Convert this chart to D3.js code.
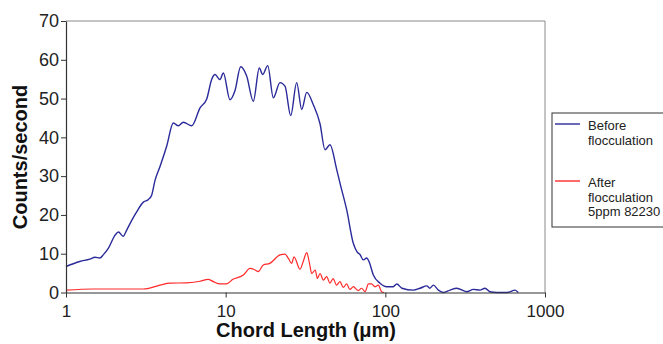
<!DOCTYPE html>
<html><head><meta charset="utf-8">
<script src="https://cdn.jsdelivr.net/npm/d3@7/dist/d3.min.js"></script>
<style>body{margin:0;background:#fff}svg{display:block;font-family:"Liberation Sans",Arial,sans-serif}</style>
</head><body><svg id="c" width="663" height="344"></svg>
<script>
const xTicks = [1, 10, 100, 1000];
const yTicks = [0, 10, 20, 30, 40, 50, 60, 70];
const seriesNames = ["Before flocculation", "After flocculation 5ppm 82230"];
const beforeX = [1.0,1.22,1.41,1.52,1.63,1.71,1.84,2.03,2.13,2.28,2.40,2.58,2.77,3.05,3.28,3.44,3.61,3.88,4.27,4.70,5.05,5.43,6.13,6.91,7.61,8.18,8.58,9.21,9.67,10.64,11.43,12.42,13.54,14.90,16.24,17.06,18.34,19.88,21.88,23.53,25.55,27.85,29.95,32.19,35.41,38.99,41.9,45.0,49.6,52.0,57.3,63.0,66.5,69.4,72.8,76.4,79,84.1,92.6,102,112,118,127,150,165,182,190,200,215,231,254,280,323,356,392,421,452,498,580,649,680];
const beforeY = [6.7,8.0,8.6,9.1,8.9,9.7,11.4,14.8,15.6,14.5,16.1,18.6,20.8,23.3,24.0,25.1,28.9,32.5,37.7,43.7,43.0,43.9,43.0,47.6,49.9,55.0,56.2,54.9,56.6,49.7,52.0,58.2,55.8,49.3,57.9,56.2,58.5,50.2,54.1,53.2,45.6,54.1,47.2,51.6,48.4,43.5,36.8,38.1,31.7,28.2,21.3,12.7,10.5,9.8,8.4,8.9,8.0,4.5,2.4,1.5,1.5,2.2,1.1,0.6,1.1,1.7,1.1,1.9,0.6,0,0.6,1.1,0.2,0.8,0.6,1.1,0.2,0,0,0.6,0];
const afterX = [1.0,1.48,3.04,3.88,4.48,5.70,6.91,7.76,8.37,9.21,10.1,11.1,12.9,14.2,15.3,16.0,17.2,18.9,21.9,23.5,24.7,25.9,26.8,29.2,30.6,32.2,33.5,34.6,36.4,37.5,39.0,40.9,42.9,45.0,47.1,49.5,52.0,54.5,57.2,60.0,63.0,67.6,71.1,74.6,78.4,82.1,86.1,90.4,94.8,98.2];
const afterY = [0.6,0.9,0.9,1.9,2.4,2.5,2.9,3.4,2.8,2.2,2.2,3.4,4.5,6.2,5.8,5.4,7.1,7.5,9.7,9.9,8.8,7.5,9.2,6.0,8.0,10.3,7.5,4.9,5.8,3.6,4.9,3.2,4.1,2.4,3.6,1.9,2.8,1.3,2.2,0.8,1.5,0.5,1.1,0.2,2.2,2.2,1.5,1.9,0.2,0];

const svg = d3.select("#c");
const L = 66, R = 545, T = 21, B = 292.5;
const x = d3.scaleLog().domain([1, 1000]).range([L, R]);
const y = d3.scaleLinear().domain([0, 70]).range([B, T]);

// plot border (top/right)
svg.append("path").attr("d", `M${L},${T}H${R}V${B}`).attr("fill","none").attr("stroke","#8a8a8a").attr("stroke-width",1);

const line = d3.line().x(d => x(d[0])).y(d => y(d[1])).curve(d3.curveMonotoneX);
const before = beforeX.map((v,i) => [v, beforeY[i]]);
const after = afterX.map((v,i) => [v, afterY[i]]);
svg.append("path").datum(before).attr("d", line).attr("fill","none").attr("stroke","#2a2a9a").attr("stroke-width",1.4);
svg.append("path").datum(after).attr("d", line).attr("fill","none").attr("stroke","#ff2a2a").attr("stroke-width",1.2);

const ax = svg.append("g").attr("transform", `translate(0,${B})`)
  .call(d3.axisBottom(x).tickValues(xTicks).tickFormat(d3.format("d")).tickSize(5).tickSizeOuter(0));
ax.selectAll("text").attr("font-size", 17).attr("fill","#222").attr("dy","0.95em").attr("font-family","Liberation Sans, Arial, sans-serif");
const ay = svg.append("g").attr("transform", `translate(${L},0)`)
  .call(d3.axisLeft(y).tickValues(yTicks).tickSize(5).tickSizeOuter(0));
ay.selectAll("text").attr("font-size", 18).attr("fill","#222").attr("x",-7).attr("font-family","Liberation Sans, Arial, sans-serif");
[ax, ay].forEach(g => { g.select(".domain").attr("stroke","#333").attr("stroke-width",1.2); g.selectAll(".tick line").attr("stroke","#333"); });

svg.append("text").attr("x", 306).attr("y", 337).attr("text-anchor","middle").attr("font-size",20).attr("font-weight","bold").attr("fill","#111").text("Chord Length (\u03bcm)");
svg.append("text").attr("transform","translate(27,157) rotate(-90)").attr("text-anchor","middle").attr("font-size",20).attr("font-weight","bold").attr("fill","#111").text("Counts/second");

// legend
const lg = svg.append("g");
lg.append("rect").attr("x",552).attr("y",113).attr("width",130).attr("height",114).attr("fill","#fff").attr("stroke","#333").attr("stroke-width",1);
const legendLines = [["Before","flocculation"],["After","flocculation","5ppm 82230"]];
const colors = ["#2a2a9a","#ff2a2a"];
const ly = [124, 181];
legendLines.forEach((lines, i) => {
  lg.append("line").attr("x1",555).attr("x2",580).attr("y1",ly[i]).attr("y2",ly[i]).attr("stroke",colors[i]).attr("stroke-width",1.4);
  lines.forEach((t, j) => lg.append("text").attr("x",588).attr("y",ly[i]+6+j*14.5).attr("font-size",13).attr("fill","#222").text(t));
});
</script></body></html>
